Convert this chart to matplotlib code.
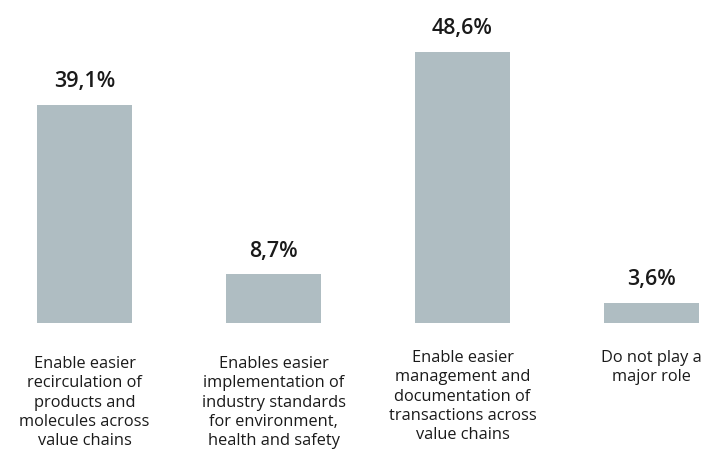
import matplotlib

matplotlib.use("Agg")
import matplotlib.pyplot as plt  # noqa: E402

# Data.
categories = [
    "Enable easier\nrecirculation of\nproducts and\nmolecules across\nvalue chains",
    "Enables easier\nimplementation of\nindustry standards\nfor environment,\nhealth and safety",
    "Enable easier\nmanagement and\ndocumentation of\ntransactions across\nvalue chains",
    "Do not play a\nmajor role",
]
values = [39.1, 8.7, 48.6, 3.6]
value_labels = ["39,1%", "8,7%", "48,6%", "3,6%"]

BAR_COLOR = "#AFBDC2"
TEXT_COLOR = "#1A1A1A"
FONT = ["Open Sans", "DejaVu Sans"]

fig = plt.figure(figsize=(7.13, 4.55), dpi=100)
ax = fig.add_axes([0, 1 - 323 / 455, 1, 323 / 455])

xs = list(range(len(values)))
ax.bar(xs, values, width=0.5, color=BAR_COLOR)
ax.set_xlim(-84.5 / 189, (713 - 84.5) / 189)
ax.set_ylim(0, 323 / 5.58)
ax.axis("off")

for x, v, lab in zip(xs, values, value_labels):
    ax.annotate(lab, (x, v), xytext=(0, 9), textcoords="offset points",
                ha="center", va="bottom", fontsize=15.5, fontweight="semibold",
                color=TEXT_COLOR, family=FONT)

# label tops in pixels from the figure top (third and fourth sit a little higher)
label_tops = [356, 356, 350, 350]
for x, text, top in zip(xs, categories, label_tops):
    ax.text(x, -(top - 323) / 5.58, text, ha="center", va="top", fontsize=11.8,
            color=TEXT_COLOR, family=FONT, linespacing=1.28, clip_on=False)

fig.savefig("out.png", dpi=100)
plt.close(fig)
